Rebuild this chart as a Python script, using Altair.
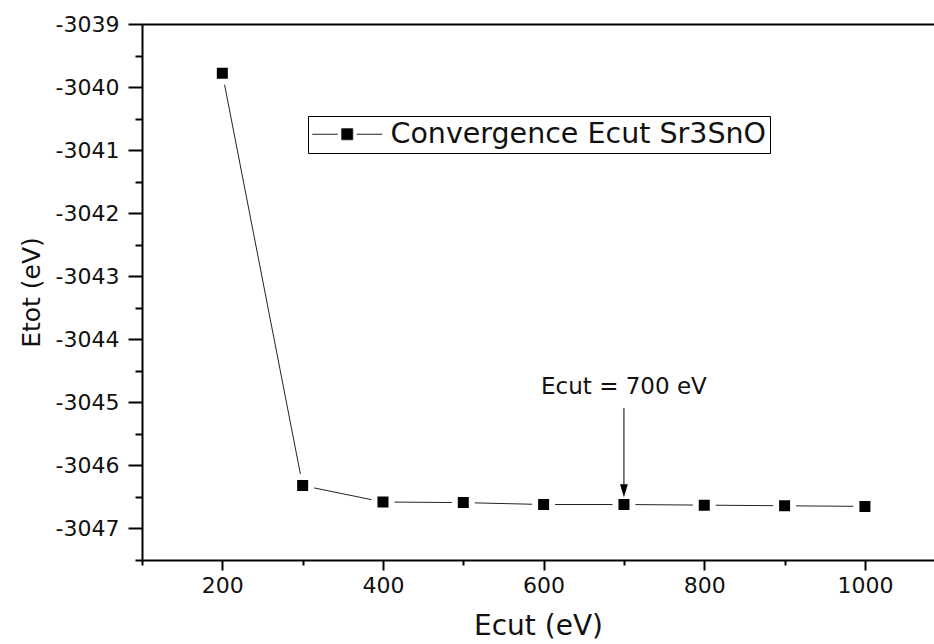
import altair as alt
import pandas as pd

# ---- data ----
ecut = [200, 300, 400, 500, 600, 700, 800, 900, 1000]
etot = [-3039.78, -3046.32, -3046.58, -3046.59, -3046.62, -3046.62, -3046.63, -3046.64, -3046.65]
series_name = "Convergence Ecut Sr3SnO"

x_domain = [100, 1086]
y_domain = [-3047.5, -3039]
x_major = [200, 400, 600, 800, 1000]
x_minor = [100, 300, 500, 700, 900]
y_major = [-3039, -3040, -3041, -3042, -3043, -3044, -3045, -3046, -3047]
y_minor = [-3039.5, -3040.5, -3041.5, -3042.5, -3043.5, -3044.5, -3045.5, -3046.5, -3047.5]

annot_text = ["Ecut = 700 eV"]
annot_x = [700]
annot_y = [-3044.86]
arrow_x = [700]
arrow_y_start = [-3045.09]
arrow_y_end = [-3046.35]
arrow_head_y = [-3046.40]

FONT = "DejaVu Sans"
W, H = 792, 536

df = pd.DataFrame({"ecut": ecut, "etot": etot, "series": [series_name] * len(ecut)})
ann = pd.DataFrame({"x": annot_x, "y": annot_y, "t": annot_text})
arr = pd.DataFrame({"x": arrow_x, "y": arrow_y_start, "y2": arrow_y_end, "yh": arrow_head_y})

xs = alt.Scale(domain=x_domain, nice=False, zero=False)
ys = alt.Scale(domain=y_domain, nice=False, zero=False)

x_axis = alt.Axis(orient="bottom", values=x_major, tickSize=10, tickWidth=2, domainWidth=2,
                  domainColor="black", tickColor="black", labelFont=FONT, labelFontSize=22,
                  labelColor="#111", labelPadding=5, labelExpr="'' + datum.value",
                  titleFont=FONT, titleFontSize=28, titleFontWeight="normal", titleColor="#111",
                  titlePadding=16, grid=False)
y_axis = alt.Axis(orient="left", values=y_major, tickSize=14, tickWidth=2, domainWidth=2,
                  domainColor="black", tickColor="black", labelFont=FONT, labelFontSize=22,
                  labelColor="#111", labelPadding=9, labelExpr="'' + datum.value",
                  titleFont=FONT, titleFontSize=25, titleFontWeight="normal", titleColor="#111",
                  titlePadding=11, grid=False)

# legend glyph: line - square - line, drawn with unit = sqrt(symbolSize)/2 = 10 px
legend_symbol = "M-1.4,0H1.15M1.55,-0.55H2.65V0.55H1.55ZM3.05,0H5.6"

line = alt.Chart(df).mark_line(strokeWidth=1).encode(
    x=alt.X("ecut:Q", scale=xs, title="Ecut (eV)", axis=x_axis),
    y=alt.Y("etot:Q", scale=ys, title="Etot (eV)", axis=y_axis),
    color=alt.Color("series:N", scale=alt.Scale(range=["#222"]),
                    legend=alt.Legend(title=None, orient="none", legendX=166, legendY=92,
                                      symbolType=legend_symbol, symbolSize=400,
                                      symbolStrokeWidth=1, symbolFillColor="black",
                                      labelFont=FONT, labelFontSize=28.5, labelColor="#111",
                                      labelOffset=50, labelLimit=0, padding=4,
                                      strokeColor="black", fillColor="white")),
)

pts = alt.Chart(df).mark_point(shape="square", filled=True, size=289, fill="black",
                               stroke="white", strokeWidth=6, opacity=1).encode(
    x=alt.X("ecut:Q", scale=xs, axis=None),
    y=alt.Y("etot:Q", scale=ys, axis=None),
)

arrow_rule = alt.Chart(arr).mark_rule(color="black", strokeWidth=1).encode(
    x=alt.X("x:Q", scale=xs, axis=None),
    y=alt.Y("y:Q", scale=ys, axis=None),
    y2="y2:Q",
)
arrow_head = alt.Chart(arr).mark_point(shape="M-0.6,-1L0.6,-1L0,1Z", size=169, filled=True,
                                       fill="black", strokeWidth=0, opacity=1).encode(
    x=alt.X("x:Q", scale=xs, axis=None),
    y=alt.Y("yh:Q", scale=ys, axis=None),
)

text = alt.Chart(ann).mark_text(font=FONT, fontSize=23, color="#111", align="center",
                                baseline="alphabetic").encode(
    x=alt.X("x:Q", scale=xs, axis=None),
    y=alt.Y("y:Q", scale=ys, axis=None),
    text="t:N",
)

minor = alt.Chart(df).mark_point(opacity=0).encode(
    x=alt.X("ecut:Q", scale=xs, axis=alt.Axis(orient="bottom", values=x_minor, labels=False,
                                              tickSize=5, tickWidth=2, tickColor="black",
                                              domain=False, grid=False, title=None)),
    y=alt.Y("etot:Q", scale=ys, axis=alt.Axis(orient="left", values=y_minor, labels=False,
                                              tickSize=7, tickWidth=2, tickColor="black",
                                              domain=False, grid=False, title=None)),
)

top = alt.Chart(df).mark_point(opacity=0).encode(
    x=alt.X("ecut:Q", scale=xs, axis=alt.Axis(orient="top", labels=False, ticks=False,
                                              domain=True, domainWidth=2, domainColor="black",
                                              grid=False, title=None)),
    y=alt.Y("etot:Q", scale=ys, axis=None),
)

chart = alt.layer(minor, top, line, pts, arrow_rule, arrow_head, text).resolve_axis(
    x="independent", y="independent"
).properties(
    width=W, height=H,
    autosize=alt.AutoSizeParams(type="none"),
    padding={"left": 142, "top": 24, "right": 0, "bottom": 84},
    background="white",
).configure_view(stroke=None)

chart.save("out.html", embed_options={"renderer": "svg", "actions": False})
